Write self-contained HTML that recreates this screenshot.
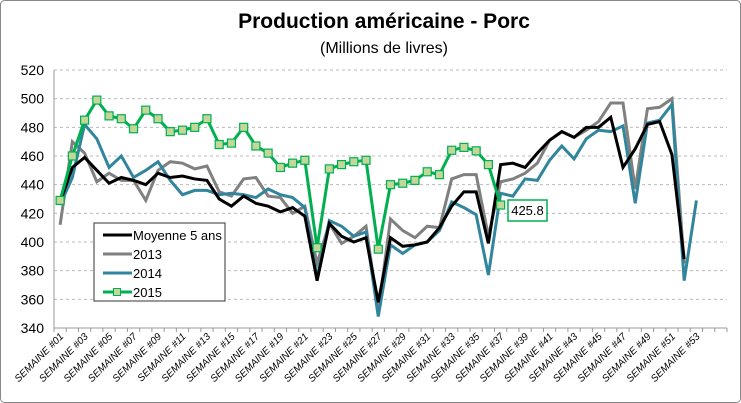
<!DOCTYPE html>
<html><head><meta charset="utf-8"><style>
body{margin:0;background:#fff;}
svg{display:block;font-family:"Liberation Sans",sans-serif;}
</style></head><body>
<svg id="chart" width="741" height="403" viewBox="0 0 741 403">
<rect x="0.5" y="0.5" width="740" height="402" rx="4" fill="#fff" stroke="#888"/>
<text x="384" y="28" text-anchor="middle" font-size="21" font-weight="bold">Production américaine - Porc</text>
<text x="384" y="53" text-anchor="middle" font-size="16">(Millions de livres)</text>
<g id="grid"></g><g id="axes"></g><g id="series"></g>
<g>
<rect x="94" y="223" width="131" height="78" fill="#fff" stroke="#333"/>
<g><line x1="103" y1="235" x2="132" y2="235" stroke="#000" stroke-width="3"/><text x="133" y="240" font-size="13">Moyenne 5 ans</text></g>
<g><line x1="103" y1="254" x2="132" y2="254" stroke="#808080" stroke-width="3"/><text x="133" y="259" font-size="13">2013</text></g>
<g><line x1="103" y1="273" x2="132" y2="273" stroke="#31859c" stroke-width="3"/><text x="133" y="278" font-size="13">2014</text></g>
<g><line x1="103" y1="292" x2="132" y2="292" stroke="#00b050" stroke-width="3"/><rect x="113.5" y="288.5" width="7" height="7" fill="#c4d79b" stroke="#00b050"/><text x="133" y="297" font-size="13">2015</text></g>
</g>
<g>
<rect x="508" y="200" width="39" height="21" fill="#fff" stroke="#00b050" stroke-width="1.5"/>
<text x="527.5" y="215" text-anchor="middle" font-size="13">425.8</text>
</g>
</svg>
<script>
const tickValues=[340,360,380,400,420,440,460,480,500,520];
const categoryCount=55;
const weekLabels=[];for(let i=1;i<=53;i+=2)weekLabels.push("SEMAINE #"+String(i).padStart(2,"0"));
const moyenne=[428,452,459,450,441,445,443,440,448,445,446,444,443,430,425,432,427,425,421,424,418,373,413,404,400,403,358,403,397,398,400,410,425,435,435,399,454,455,452,462,471,477,473,480,480,487,452,465,482,484,461,388];
const y2013=[412,470,462,442,448,443,443,429,450,456,455,451,453,435,432,444,445,432,431,420,425,385,413,399,404,411,352,416,408,403,411,410,444,447,447,404,442,444,448,455,471,477,473,478,484,497,497,437,493,494,500,385];
const y2014=[426,445,482,472,452,460,445,450,456,443,433,436,436,433,434,433,431,437,433,431,424,375,415,411,404,407,348,398,392,398,400,408,428,424,419,377,434,432,444,443,457,467,458,472,478,477,481,427,483,485,496,373,429];
const y2015=[429,460,485,499,488,486,479,492,486,477,478,480,486,468,469,480,467,462,452,455,457,396,451,454,456,457,395,440,441,443,449,447,464,466,463.6,454,425.8];
const X0=54,X1=727,Y0=328,Y1=70,VMIN=340,VMAX=520;
const bw=(X1-X0)/categoryCount;
const xs=i=>X0+bw*(i+0.5);
const ys=v=>Y0-(v-VMIN)/(VMAX-VMIN)*(Y0-Y1);
const NS="http://www.w3.org/2000/svg";
function mk(t,a,p){const e=document.createElementNS(NS,t);for(const k in a)e.setAttribute(k,a[k]);p.appendChild(e);return e;}
const grid=document.getElementById('grid'),axes=document.getElementById('axes'),ser=document.getElementById('series');
tickValues.forEach(v=>{
 if(v>VMIN){const g=mk('line',{x1:X0,x2:X1,y1:ys(v),y2:ys(v),stroke:'#bbb','stroke-dasharray':'3,3'},grid);
 
 }
 const t=mk('text',{x:44,y:ys(v)+5,'text-anchor':'end','font-size':'14'},axes);t.textContent=v;
 
 
});
mk('line',{x1:X0,x2:X0,y1:Y1,y2:Y0,stroke:'#999'},axes);
mk('line',{x1:X0,x2:X1,y1:Y0,y2:Y0,stroke:'#999'},axes);
for(let i=0;i<=categoryCount;i++)mk('line',{x1:X0+bw*i,x2:X0+bw*i,y1:Y0,y2:Y0+4,stroke:'#999'},axes);
weekLabels.forEach((l,k)=>{const x=xs(k*2);const t=mk('text',{x:x+4,y:Y0+9,'text-anchor':'end','font-size':'10','font-style':'italic',transform:`rotate(-45 ${x+4} ${Y0+9})`},axes);t.textContent=l;
 
 });
function line(arr,color,name){const p=mk('polyline',{points:arr.map((v,i)=>xs(i)+','+ys(v)).join(' '),fill:'none',stroke:color,'stroke-width':3,'stroke-linejoin':'miter'},ser);
 
 }
line(y2013,'#808080','series-2013');
line(y2014,'#31859c','series-2014');
line(moyenne,'#000','series-moyenne-5-ans');
line(y2015,'#00b050','series-2015');
y2015.forEach((v,i)=>{const r=mk('rect',{x:xs(i)-4,y:ys(v)-4,width:8,height:8,fill:'#c4d79b',stroke:'#00b050','stroke-width':1.2},ser);
 
 });
</script>
</body></html>
